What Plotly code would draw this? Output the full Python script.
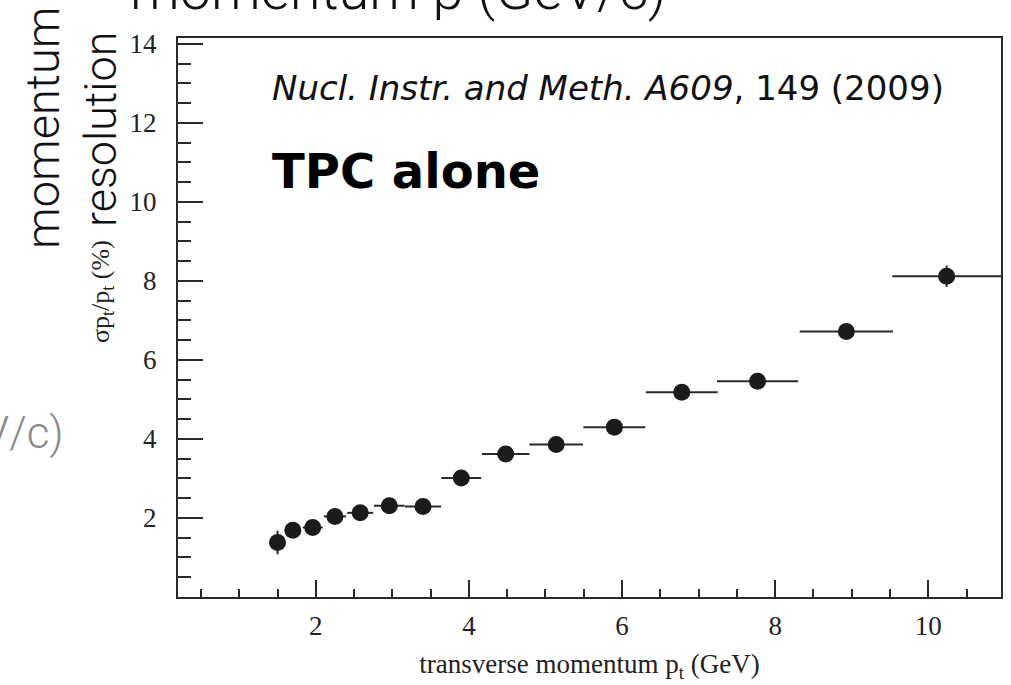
import plotly.graph_objects as go

# Transverse-momentum resolution of the TPC (stand-alone tracking)
pt = [1.50, 1.70, 1.96, 2.25, 2.58, 2.96, 3.40, 3.90, 4.48, 5.14, 5.90, 6.78, 7.77, 8.93, 10.24]
pt_half_bin = [0.08, 0.10, 0.13, 0.145, 0.17, 0.20, 0.235, 0.26, 0.31, 0.35, 0.405, 0.47, 0.53, 0.61, 0.71]
resolution = [1.38, 1.69, 1.76, 2.04, 2.13, 2.31, 2.29, 3.01, 3.62, 3.86, 4.30, 5.18, 5.46, 6.72, 8.12]
resolution_err = [0.30, 0.12, 0.10, 0.10, 0.10, 0.10, 0.10, 0.10, 0.10, 0.10, 0.10, 0.10, 0.10, 0.12, 0.27]

x_ticks = [2, 4, 6, 8, 10]
y_ticks = [2, 4, 6, 8, 10, 12, 14]

W, H = 1011, 685
L, R, T, B = 178, 10, 38, 88
pw, ph = W - L - R, H - T - B


def px(x):
    return (x - L) / pw


def py(y):
    return (H - B - y) / ph


ink = "#2a2a2a"
serif = "Liberation Serif"
slide = "Roboto"

fig = go.Figure()
fig.add_trace(go.Scatter(
    x=pt, y=resolution, mode="markers",
    marker=dict(size=17, color="#1b1b1b", line=dict(width=0)),
    error_x=dict(type="data", array=pt_half_bin, thickness=2, width=0, color=ink),
    error_y=dict(type="data", array=resolution_err, thickness=2, width=0, color=ink),
    showlegend=False, hoverinfo="skip",
))

axis_common = dict(
    showline=True, linecolor=ink, linewidth=2, mirror=True,
    showgrid=False, zeroline=False, ticks="inside", tickwidth=2, tickcolor=ink,
    tickfont=dict(family=serif, size=27, color="#222"),
)

fig.update_xaxes(
    range=[0.2, 10.95], tickmode="array", tickvals=x_ticks,
    ticktext=[str(v) for v in x_ticks], ticklen=17,
    minor=dict(dtick=0.5, tick0=0, ticks="inside", ticklen=8, tickwidth=2, tickcolor=ink),
    ticklabelstandoff=4,
    title=dict(text="transverse momentum p<sub>t</sub> (GeV)",
               font=dict(family=serif, size=27, color="#222"), standoff=14),
    **axis_common,
)
fig.update_yaxes(
    range=[0, 14.15], tickmode="array", tickvals=y_ticks,
    ticktext=[str(v) for v in y_ticks], ticklen=25,
    minor=dict(dtick=0.5, tick0=0, ticks="inside", ticklen=13, tickwidth=2, tickcolor=ink),
    ticklabelstandoff=14,
    **axis_common,
)

annotations = [
    dict(text="<i>Nucl. Instr. and Meth. A609</i>, 149 (2009)",
         x=px(270), y=py(88), xanchor="left", yanchor="middle",
         font=dict(family="DejaVu Sans", size=34, color="#111")),
    dict(text="<b>TPC alone</b>",
         x=px(270), y=py(171), xanchor="left", yanchor="middle",
         font=dict(family="DejaVu Sans", size=48, color="#000")),
    dict(text="σp<sub>t</sub>/p<sub>t</sub> (%)", textangle=-90,
         x=px(102), y=py(292), xanchor="center", yanchor="middle",
         font=dict(family=serif, size=26, color="#222")),
    dict(text="momentum", textangle=-90,
         x=px(42), y=py(128), xanchor="center", yanchor="middle",
         font=dict(family=slide, size=47, color="#111", weight=300)),
    dict(text="resolution", textangle=-90,
         x=px(100), y=py(130), xanchor="center", yanchor="middle",
         font=dict(family=slide, size=45, color="#111", weight=300)),
    dict(text="momentum p (GeV/c)",
         x=px(128), y=py(-10), xanchor="left", yanchor="middle",
         font=dict(family=slide, size=56, color="#111", weight=300)),
    dict(text="p (GeV/c)",
         x=px(66), y=py(433), xanchor="right", yanchor="middle",
         font=dict(family=slide, size=44, color="#8a8a8a", weight=300)),
]
for a in annotations:
    a.update(xref="paper", yref="paper", showarrow=False)

fig.update_layout(
    width=W, height=H, margin=dict(l=L, r=R, t=T, b=B, autoexpand=False),
    paper_bgcolor="white", plot_bgcolor="white",
    annotations=annotations,
)

fig.write_html("out.html")
